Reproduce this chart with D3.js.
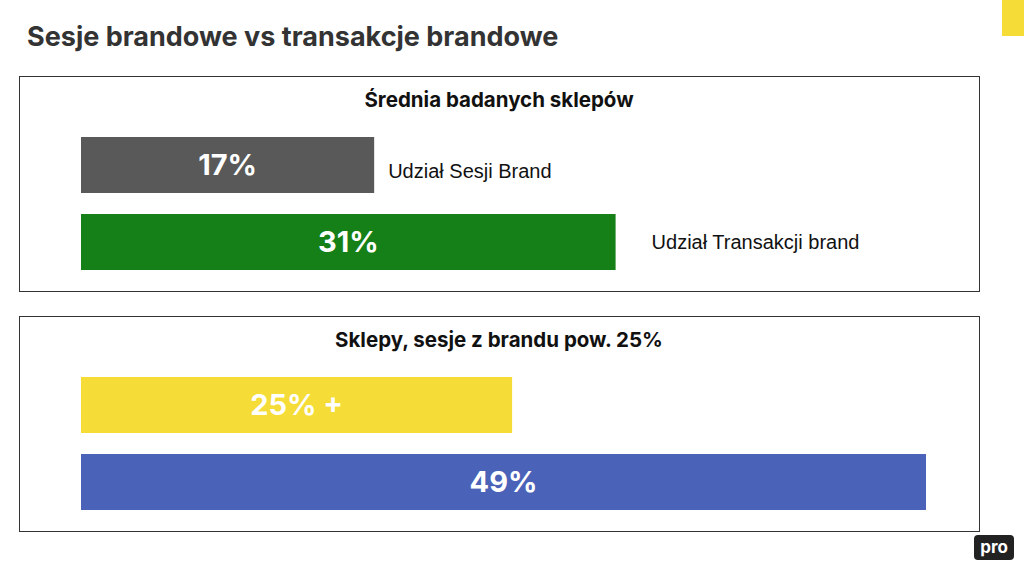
<!DOCTYPE html>
<html><head><meta charset="utf-8">
<script src="https://cdn.jsdelivr.net/npm/d3@7"></script>
<style>body{margin:0;background:#fff}</style>
</head><body><svg width="1024" height="568"></svg>
<script>
// data
const panelTitles = ["Średnia badanych sklepów", "Sklepy, sesje z brandu pow. 25%"];
const barValues = [[17, 31], [25, 49]];
const barLabels = [["17%", "31%"], ["25% +", "49%"]];
const sideLabels = [["Udział Sesji Brand", "Udział Transakcji brand"], ["", ""]];
const barColors = [["#595959", "#158017"], ["#f5dc36", "#4a62b8"]];

const svg = d3.select("svg");
const x = d3.scaleLinear().domain([0, 49]).range([81, 926]);

svg.append("text").attr("x", 27).attr("y", 46)
  .attr("font-family", "Inter, Lato, sans-serif").attr("font-weight", 700)
  .attr("font-size", 27).attr("fill", "#333").text("Sesje brandowe vs transakcje brandowe");

svg.append("rect").attr("x", 1002).attr("y", 0).attr("width", 22).attr("height", 36).attr("fill", "#f5dc36");

const panelTops = [76, 316];
panelTops.forEach((top, p) => {
  const g = svg.append("g").attr("transform", `translate(0,${top})`);
  g.append("rect").attr("x", 19.5).attr("y", 0.5).attr("width", 960).attr("height", 215)
    .attr("fill", "none").attr("stroke", "#333").attr("stroke-width", 1);
  g.append("text").attr("x", 499).attr("y", 31).attr("text-anchor", "middle")
    .attr("font-family", "Inter, Lato, sans-serif").attr("font-weight", 700)
    .attr("font-size", 20.5).attr("fill", "#111").text(panelTitles[p]);
  const y = d3.scaleBand().domain([0, 1]).range([61, 194]).paddingInner(0.273);
  barValues[p].forEach((v, i) => {
    g.append("rect").attr("x", x(0)).attr("y", y(i)).attr("width", x(v) - x(0))
      .attr("height", y.bandwidth()).attr("fill", barColors[p][i]);
    g.append("text").attr("x", (x(0) + x(v)) / 2).attr("y", y(i) + y.bandwidth() / 2 + 10)
      .attr("text-anchor", "middle").attr("font-family", "Inter, Lato, sans-serif")
      .attr("font-weight", 700).attr("font-size", 29).attr("fill", "#fff").text(barLabels[p][i]);
  });
  sideLabels[p].forEach((s, i) => {
    if (!s) return;
    const off = i === 0 ? 14 : 36;
    g.append("text").attr("x", x(barValues[p][i]) + off).attr("y", y(i) + y.bandwidth() / 2 + 7 + (i === 0 ? 6 : 0))
      .attr("font-family", "Liberation Sans, Arial, sans-serif").attr("font-size", 20)
      .attr("fill", "#111").text(s);
  });
});

svg.append("rect").attr("x", 974).attr("y", 535).attr("width", 40).attr("height", 25).attr("rx", 4).attr("fill", "#222");
svg.append("text").attr("x", 994).attr("y", 553).attr("text-anchor", "middle")
  .attr("font-family", "Inter, sans-serif").attr("font-weight", 700).attr("font-size", 17)
  .attr("fill", "#fff").text("pro");
</script></body></html>
